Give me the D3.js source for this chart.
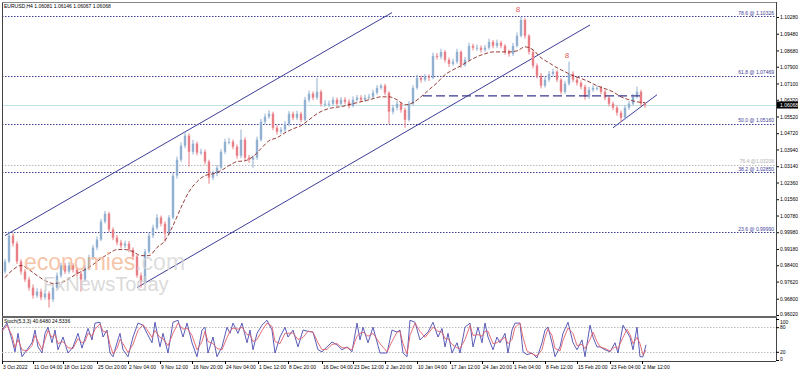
<!DOCTYPE html>
<html>
<head>
  <style>
    body { margin: 0; background: #fff; }
    svg text { font-family: "Liberation Sans", Arial, sans-serif; }
  </style>
</head>
<body>
<div id="chart"></div>
<script src="https://d3js.org/d3.v7.min.js"></script>
<script>
// EURUSD H4, one candle every 4 bars
const closes = [0.9858,0.9982,0.9944,0.9858,0.9810,0.9772,0.9733,0.9695,0.9714,0.9686,
  0.9705,0.9676,0.9733,0.9791,0.9839,0.9810,0.9839,0.9819,0.9800,0.9772,
  0.9829,0.9878,0.9925,0.9963,1.0049,1.0087,1.0011,0.9972,0.9949,0.9934,
  0.9944,0.9915,0.9882,0.9791,0.9762,0.9905,0.9982,1.0020,1.0068,1.0039,
  0.9992,1.0068,1.0269,1.0345,1.0412,1.0460,1.0383,1.0422,1.0379,1.0383,
  1.0336,1.0259,1.0278,1.0307,1.0383,1.0431,1.0431,1.0407,1.0364,1.0441,
  1.0355,1.0345,1.0355,1.0441,1.0527,1.0551,1.0565,1.0498,1.0479,1.0489,
  1.0517,1.0565,1.0546,1.0565,1.0536,1.0632,1.0661,1.0642,1.0670,1.0613,
  1.0613,1.0613,1.0632,1.0613,1.0632,1.0622,1.0603,1.0632,1.0642,1.0632,
  1.0642,1.0646,1.0666,1.0689,1.0699,1.0666,1.0575,1.0594,1.0613,1.0584,
  1.0536,1.0613,1.0689,1.0737,1.0728,1.0742,1.0737,1.0842,1.0838,1.0861,
  1.0823,1.0804,1.0814,1.0861,1.0799,1.0823,1.0890,1.0881,1.0881,1.0871,
  1.0881,1.0909,1.0890,1.0905,1.0890,1.0861,1.0852,1.0890,1.0938,1.1014,
  1.0938,1.0861,1.0795,1.0747,1.0699,1.0728,1.0756,1.0766,1.0728,1.0670,
  1.0709,1.0756,1.0728,1.0713,1.0694,1.0646,1.0680,1.0689,1.0689,1.0670,
  1.0642,1.0613,1.0594,1.0570,1.0546,1.0594,1.0613,1.0646,1.0670,1.0613,
  1.0607];
const highs = [0.9870,1.0001,0.9994,0.9955,0.9869,0.9822,0.9785,0.9748,0.9730,0.9728,
  0.9722,0.9716,0.9745,0.9805,0.9852,0.9851,0.9855,0.9850,0.9830,0.9812,
  0.9840,0.9890,0.9938,0.9978,1.0062,1.0100,1.0095,1.0022,0.9985,0.9962,
  0.9958,0.9956,0.9926,0.9890,0.9805,0.9918,0.9995,1.0034,1.0085,1.0078,
  1.0050,1.0080,1.0282,1.0360,1.0428,1.0478,1.0470,1.0440,1.0432,1.0398,
  1.0394,1.0345,1.0292,1.0320,1.0396,1.0446,1.0450,1.0442,1.0418,1.0489,
  1.0452,1.0368,1.0366,1.0455,1.0540,1.0566,1.0582,1.0575,1.0510,1.0502,
  1.0530,1.0578,1.0576,1.0580,1.0575,1.0646,1.0676,1.0672,1.0737,1.0680,
  1.0630,1.0628,1.0646,1.0642,1.0645,1.0644,1.0634,1.0648,1.0655,1.0654,
  1.0656,1.0660,1.0680,1.0702,1.0708,1.0708,1.0672,1.0608,1.0626,1.0622,
  1.0594,1.0625,1.0702,1.0752,1.0748,1.0756,1.0754,1.0858,1.0856,1.0876,
  1.0870,1.0834,1.0828,1.0876,1.0868,1.0836,1.0905,1.0900,1.0895,1.0892,
  1.0894,1.0924,1.0918,1.0920,1.0914,1.0898,1.0872,1.0904,1.0954,1.1029,
  1.1022,1.0946,1.0870,1.0806,1.0760,1.0742,1.0770,1.0780,1.0775,1.0736,
  1.0722,1.0814,1.0768,1.0740,1.0724,1.0704,1.0694,1.0702,1.0700,1.0698,
  1.0680,1.0652,1.0624,1.0604,1.0580,1.0606,1.0626,1.0660,1.0695,1.0680,
  1.0620];
const lows = [0.9800,0.9850,0.9930,0.9846,0.9795,0.9760,0.9718,0.9680,0.9684,0.9672,
  0.9675,0.9638,0.9664,0.9725,0.9780,0.9798,0.9800,0.9805,0.9785,0.9714,
  0.9762,0.9818,0.9866,0.9912,0.9955,1.0040,0.9998,0.9960,0.9936,0.9920,
  0.9922,0.9902,0.9868,0.9780,0.9733,0.9752,0.9895,0.9970,1.0010,1.0026,
  0.9953,0.9985,1.0060,1.0255,1.0335,1.0400,1.0312,1.0370,1.0366,1.0368,
  1.0322,1.0230,1.0248,1.0266,1.0298,1.0372,1.0418,1.0395,1.0350,1.0352,
  1.0342,1.0330,1.0307,1.0345,1.0432,1.0515,1.0540,1.0486,1.0466,1.0468,
  1.0478,1.0505,1.0534,1.0535,1.0524,1.0528,1.0620,1.0630,1.0632,1.0600,
  1.0598,1.0596,1.0602,1.0600,1.0604,1.0610,1.0590,1.0596,1.0624,1.0620,
  1.0622,1.0632,1.0636,1.0656,1.0680,1.0654,1.0517,1.0562,1.0582,1.0570,
  1.0498,1.0528,1.0604,1.0680,1.0714,1.0718,1.0722,1.0730,1.0824,1.0826,
  1.0810,1.0790,1.0795,1.0805,1.0785,1.0790,1.0815,1.0868,1.0866,1.0858,
  1.0862,1.0872,1.0878,1.0880,1.0878,1.0848,1.0838,1.0842,1.0882,1.0930,
  1.0925,1.0848,1.0782,1.0734,1.0686,1.0690,1.0718,1.0744,1.0716,1.0658,
  1.0660,1.0700,1.0716,1.0700,1.0682,1.0632,1.0636,1.0670,1.0676,1.0658,
  1.0630,1.0600,1.0582,1.0556,1.0527,1.0536,1.0584,1.0604,1.0638,1.0600,
  1.0594];
const firstOpen = 0.9810;

// moving average, one value every 2 candles
const maVals = [0.9781,0.9819,0.9839,0.9819,0.9791,0.9767,0.9753,0.9757,0.9776,0.9800,
  0.9819,0.9843,0.9872,0.9896,0.9915,0.9915,0.9905,0.9886,0.9886,0.9925,
  0.9958,1.0030,1.0116,1.0192,1.0240,1.0269,1.0278,1.0293,1.0317,1.0336,
  1.0340,1.0360,1.0398,1.0436,1.0450,1.0474,1.0493,1.0508,1.0536,1.0565,
  1.0584,1.0594,1.0599,1.0608,1.0618,1.0627,1.0637,1.0646,1.0646,1.0632,
  1.0608,1.0618,1.0646,1.0680,1.0713,1.0752,1.0775,1.0795,1.0818,1.0838,
  1.0852,1.0861,1.0861,1.0861,1.0866,1.0885,1.0871,1.0833,1.0809,1.0785,
  1.0766,1.0747,1.0734,1.0718,1.0699,1.0685,1.0670,1.0646,1.0632,1.0622,
  1.0618];

// stochastic (bar position, main, signal)
const stochBar = [0,5,10,13,16,20,25,30,33,36,40,43,46,50,53,56,61,66,71,76,80,83,86,90,93,98,101,105,108,111,
  115,118,121,126,131,136,141,145,150,153,158,161,166,171,176,181,185,190,195,200,203,206,211,215,220,225,228,231,236,240,
  245,248,251,255,260,265,270,273,278,283,286,291,296,301,306,311,316,320,325,330,335,340,345,350,355,358,361,366,371,378,
  385,390,395,398,401,405,408,413,418,423,426,431,436,440,443,446,450,455,458,463,468,471,476,480,483,486,491,495,498,503,
  506,510,513,518,521,525,530,535,540,543,546,550,553,558,561,566,571,575,580,583,588,591,595,598,603,608,613,616,621,625,
  628,631,635,638,641,644];
const stochMain = [73,90,49,20,65,8,25,42,73,32,17,65,80,42,73,25,56,17,32,65,29,53,77,49,90,92,56,73,17,8,
  42,65,25,8,56,90,85,65,42,92,32,65,17,92,97,56,90,42,8,73,80,17,56,8,32,80,65,90,65,90,
  42,73,25,65,85,97,73,17,56,80,56,73,32,73,70,68,25,20,32,44,37,25,32,20,90,49,80,42,80,17,
  17,73,68,73,17,8,97,92,49,61,68,92,56,77,32,65,17,42,17,80,90,32,80,42,90,56,25,56,42,65,
  17,73,90,90,20,13,17,5,42,73,80,42,8,32,65,92,42,25,49,8,85,56,32,32,25,20,42,17,85,68,
  56,25,80,8,8,37];
const stochSignal = [70,85,60,30,50,25,22,35,60,45,25,50,72,55,62,40,45,30,28,52,42,45,65,58,75,88,70,68,38,15,
  28,50,40,18,38,72,86,74,55,72,55,52,35,65,90,75,78,60,25,45,70,45,40,28,25,55,70,78,75,80,
  62,62,45,50,72,90,82,45,40,65,65,66,50,55,70,68,42,25,26,38,40,30,30,25,58,65,68,58,65,40,
  20,45,68,70,40,15,60,90,70,55,64,80,70,68,52,52,38,30,28,50,84,60,62,58,70,70,40,42,48,55,
  40,50,80,90,55,22,15,10,25,55,76,60,28,22,48,78,65,35,38,28,50,68,45,32,28,22,32,28,55,75,
  62,40,55,40,12,24];
const stochTicks = [100, 80, 20, 0];

const priceTicks = [0.96020,0.96800,0.97620,0.98400,0.99180,0.99980,1.00780,1.01560,1.02360,1.03140,
  1.03940,1.04720,1.05520,1.06320,1.07100,1.07900,1.08680,1.09480,1.10280];
const timeBars = [0,31,61,95,126,158,190,223,256,286,320,351,383,415,448,480,511,543,575,608,640];
const timeLabels = ["3 Oct 2022","11 Oct 04:00","18 Oct 12:00","25 Oct 20:00","2 Nov 04:00","9 Nov 12:00",
  "16 Nov 20:00","24 Nov 04:00","1 Dec 12:00","8 Dec 20:00","16 Dec 04:00","23 Dec 12:00","2 Jan 20:00",
  "10 Jan 04:00","17 Jan 12:00","24 Jan 20:00","1 Feb 04:00","8 Feb 12:00","15 Feb 20:00","23 Feb 04:00","2 Mar 12:00"];

const fibLevels = [1.10326, 1.07469, 1.05160, 1.03206, 1.02850, 0.99990];
const fibLabels = ["78.6 @ 1.10326","61.8 @ 1.07469","50.0 @ 1.05160","76.4 @1.03206","38.2 @ 1.02850","23.6 @ 0.99990"];
const fibFaint = [false,false,false,true,false,false];

const upperChannel = [[3, 0.9982], [390, 1.1049]];
const lowerChannel = [[135, 0.9733], [588, 1.0990]];
const smallLine = [[611, 1.0498], [655, 1.0656]];
const neckline = [[421, 1.0651], [641, 1.0651]];
const fractalBars = [516, 565];
const fractalPrices = [1.1050, 1.0830];
const lastPrice = 1.06068;

const W = 798, H = 372;
const plotL = 2, plotR = 776, mainTop = 2, mainBot = 316, stTop = 318, stBot = 361;

const svg = d3.select("#chart").append("svg").attr("width", W).attr("height", H);
svg.append("rect").attr("width", W).attr("height", H).attr("fill", "#fff");

const x = d3.scaleLinear().domain([0, 774]).range([plotL, plotR]);
const y = d3.scaleLinear().domain([0.96020, 1.10280]).range([315, 17]);
const ys = d3.scaleLinear().domain([0, 100]).range([360, 319]);

svg.append("defs").append("clipPath").attr("id", "mainclip")
  .append("rect").attr("x", plotL).attr("y", mainTop).attr("width", plotR - plotL).attr("height", mainBot - mainTop);
const main = svg.append("g").attr("clip-path", "url(#mainclip)");

// fib lines
fibLevels.forEach((lv, i) => {
  main.append("line").attr("x1", plotL).attr("x2", plotR).attr("y1", Math.round(y(lv)) + 0.5).attr("y2", Math.round(y(lv)) + 0.5)
    .attr("stroke", fibFaint[i] ? "#b8b8b8" : "#3c3c96").attr("stroke-width", 1).attr("stroke-dasharray", "1.5,1.5");
  svg.append("text").attr("x", plotR - 2).attr("y", y(lv) - 1.5).attr("text-anchor", "end")
    .attr("font-size", 5).attr("fill", fibFaint[i] ? "#b0b0b0" : "#3c3c96").text(fibLabels[i]);
});

// current price line
main.append("line").attr("x1", plotL).attr("x2", plotR).attr("y1", Math.round(y(lastPrice)) + 0.5).attr("y2", Math.round(y(lastPrice)) + 0.5)
  .attr("stroke", "#bfe3e6").attr("stroke-width", 1);

// watermark
const wm = svg.append("g");
wm.append("text").attr("x", 24).attr("y", 270).attr("font-size", 23).attr("font-family", "Arial, sans-serif")
  .attr("fill", "#f4b592").attr("fill-opacity", 0.8).text("economies")
  .append("tspan").attr("fill", "#d6d6d6").text(".com");
wm.append("text").attr("x", 43).attr("y", 291).attr("font-size", 20).attr("font-family", "Arial, sans-serif")
  .attr("fill", "#cfcfcf").attr("fill-opacity", 0.8).text("FxNewsToday");

const line = d3.line().x(d => x(d[0])).y(d => y(d[1]));

// channel lines
[upperChannel, lowerChannel, smallLine].forEach(seg => {
  main.append("path").attr("d", line(seg)).attr("stroke", "#3d3d99").attr("stroke-width", 1).attr("fill", "none");
});

// candles
const opens = closes.map((c, i) => i === 0 ? firstOpen : closes[i - 1]);
const cg = main.append("g");
closes.forEach((c, i) => {
  const o = opens[i];
  const cx = x(3 + 4 * i);
  const col = c >= o ? "#92b0d0" : "#e87f86";
  cg.append("line").attr("x1", cx).attr("x2", cx).attr("y1", y(highs[i])).attr("y2", y(lows[i]))
    .attr("stroke", col).attr("stroke-width", 1);
  const top = y(Math.max(o, c)), bot = y(Math.min(o, c));
  cg.append("rect").attr("x", cx - 1.2).attr("y", top).attr("width", 2.4).attr("height", Math.max(1, bot - top)).attr("fill", col);
});

// moving average
main.append("path")
  .attr("d", d3.line().x((d, j) => x(3 + 8 * j)).y(d => y(d)).curve(d3.curveMonotoneX)(maVals))
  .attr("fill", "none").attr("stroke", "#8b2a22").attr("stroke-width", 0.9).attr("stroke-dasharray", "4,2");

// neckline
main.append("path").attr("d", line(neckline)).attr("stroke", "#3a3a90").attr("stroke-width", 1.3)
  .attr("stroke-dasharray", "9,4").attr("fill", "none");

// fractal marks
fractalBars.forEach((b, i) => {
  svg.append("text").attr("x", x(b)).attr("y", y(fractalPrices[i])).attr("text-anchor", "middle")
    .attr("font-size", 8).attr("fill", "#e0605a").text("8");
});

// title
svg.append("text").attr("x", 4).attr("y", 8).attr("font-size", 5).attr("fill", "#000")
  .text("EURUSD,H4  1.06081 1.06146 1.06067 1.06068");

// right price axis
const ax = svg.append("g").attr("transform", `translate(${plotR},0)`)
  .call(d3.axisRight(y).tickValues(priceTicks).tickSize(3).tickFormat(d3.format(".5f")));
ax.select(".domain").remove();
ax.selectAll("text").attr("font-size", 5).attr("font-family", "Liberation Sans, Arial, sans-serif").attr("fill", "#000").attr("x", 4);
ax.selectAll("line").attr("stroke", "#000");
ax.selectAll(".tick").filter(d => d === 0.96020).select("text").attr("dy", "0");

// last price box
svg.append("rect").attr("x", plotR + 1).attr("y", y(lastPrice) - 3.5).attr("width", 21).attr("height", 7).attr("fill", "#000");
svg.append("text").attr("x", plotR + 4).attr("y", y(lastPrice) + 1.8).attr("font-size", 5).attr("fill", "#fff").text("1.06068");

// frames
svg.append("line").attr("x1", plotL + 0.5).attr("x2", plotL + 0.5).attr("y1", mainTop).attr("y2", stBot).attr("stroke", "#444");
svg.append("line").attr("x1", plotR + 0.5).attr("x2", plotR + 0.5).attr("y1", mainTop).attr("y2", stBot).attr("stroke", "#444");
svg.append("line").attr("x1", plotL).attr("x2", plotR).attr("y1", mainTop + 0.5).attr("y2", mainTop + 0.5).attr("stroke", "#888");
svg.append("rect").attr("x", plotL).attr("y", mainBot).attr("width", plotR - plotL + 1).attr("height", 2).attr("fill", "#666");
svg.append("line").attr("x1", plotL).attr("x2", plotR).attr("y1", stBot + 0.5).attr("y2", stBot + 0.5).attr("stroke", "#444");

// stochastic panel
[80, 20].forEach(v => {
  svg.append("line").attr("x1", plotL).attr("x2", plotR).attr("y1", Math.round(ys(v)) + 0.5).attr("y2", Math.round(ys(v)) + 0.5)
    .attr("stroke", "#bdbdbd").attr("stroke-dasharray", "1.5,1.5");
});
const sline = d3.line().x((d, i) => x(stochBar[i])).y(d => ys(d));
svg.append("path").attr("d", sline(stochMain)).attr("fill", "none").attr("stroke", "#4a4ab0").attr("stroke-width", 0.9);
svg.append("path").attr("d", sline(stochSignal)).attr("fill", "none").attr("stroke", "#e0606a").attr("stroke-width", 0.9);
svg.append("text").attr("x", 4).attr("y", 323).attr("font-size", 5).attr("fill", "#000").text("Stoch(5,3,3) 40.6480 24.5336");

// stochastic scale labels (100 pushed inside the panel like the platform does)
const sax = svg.append("g").attr("transform", `translate(${plotR},0)`)
  .call(d3.axisRight(ys).tickValues(stochTicks).tickSize(3));
sax.select(".domain").remove();
sax.selectAll("text").attr("font-size", 5).attr("font-family", "Liberation Sans, Arial, sans-serif").attr("fill", "#000").attr("x", 4);
sax.selectAll("line").attr("stroke", "#000");
sax.selectAll(".tick").filter(d => d === 100).select("text").attr("dy", "0.9em");
sax.selectAll(".tick").filter(d => d === 0).select("text").attr("dy", "0.1em");

// time axis
timeBars.forEach((b, i) => {
  svg.append("line").attr("x1", x(b) + 0.5).attr("x2", x(b) + 0.5).attr("y1", stBot).attr("y2", stBot + 3).attr("stroke", "#000");
  svg.append("text").attr("x", x(b) + 1).attr("y", 369).attr("font-size", 5).attr("fill", "#000").text(timeLabels[i]);
});
</script>
</body>
</html>
